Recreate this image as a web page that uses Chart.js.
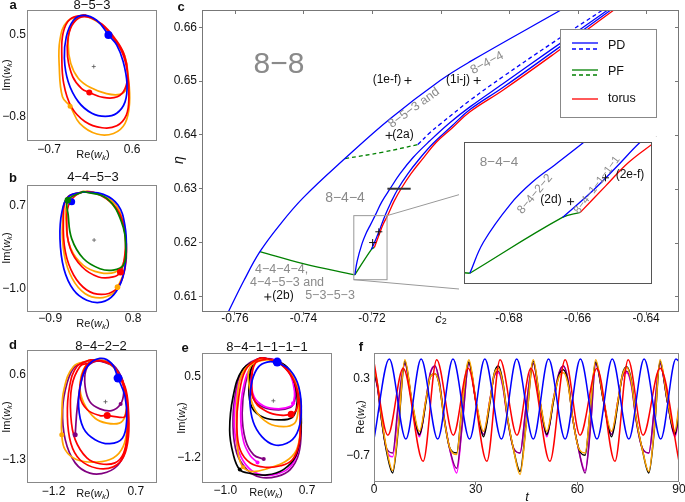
<!DOCTYPE html>
<html>
<head>
<meta charset="utf-8">
<script src="https://cdn.jsdelivr.net/npm/chart.js@4.4.0/dist/chart.umd.min.js"></script>
<style>
body { margin: 0; background: #fff; }
#wrap { position: relative; width: 685px; height: 502px; overflow: hidden; background: #fff; }
canvas { position: absolute; }
</style>
</head>
<body>
<div id="wrap"></div>
<script>
// ---------- data: panel a (8-5-3) ----------
const aXTicks = [-0.7, 0.6], aXLabels = ['−0.7', '0.6'];
const aYTicks = [0.5, -0.8], aYLabels = ['0.5', '−0.8'];
const aBlue = [[0.23,0.50],[0.36,0.34],[0.46,0.08],[0.52,-0.27],[0.49,-0.56],[0.36,-0.74],[0.18,-0.79],[-0.03,-0.74],[-0.24,-0.56],[-0.40,-0.24],[-0.46,0.13],[-0.43,0.47],[-0.32,0.73],[-0.16,0.81],[0.05,0.73],[0.23,0.50]];
const aRed = [[-0.14,0.82],[-0.37,0.75],[-0.48,0.53],[-0.50,0.16],[-0.47,-0.27],[-0.35,-0.64],[-0.14,-0.87],[0.13,-0.97],[0.36,-0.94],[0.51,-0.77],[0.55,-0.48],[0.53,-0.11],[0.45,0.21],[0.31,0.45],[0.10,0.69],[-0.14,0.79],[-0.31,0.70],[-0.40,0.47],[-0.41,0.16],[-0.33,-0.16],[-0.19,-0.35],[-0.07,-0.41],[0.15,-0.49],[0.37,-0.48],[0.49,-0.35],[0.53,-0.11],[0.48,0.18],[0.35,0.42],[0.13,0.67],[-0.14,0.82]];
const aOrange = [[-0.16,0.82],[-0.42,0.71],[-0.53,0.42],[-0.54,0.00],[-0.49,-0.48],[-0.37,-0.63],[-0.22,-0.90],[0.05,-1.07],[0.31,-1.06],[0.49,-0.90],[0.56,-0.58],[0.54,-0.16],[0.48,0.18],[0.33,0.42],[0.10,0.68],[-0.16,0.80],[-0.35,0.66],[-0.40,0.37],[-0.36,0.05],[-0.24,-0.19],[-0.06,-0.33],[0.20,-0.43],[0.41,-0.44],[0.51,-0.35],[0.53,-0.11],[0.48,0.18],[0.33,0.42],[0.10,0.68],[-0.16,0.82]];

// ---------- data: panel b (4-4-5-3) ----------
const bXTicks = [-0.9, 0.8], bXLabels = ['−0.9', '0.8'];
const bYTicks = [0.7, -1.0], bYLabels = ['0.7', '−1.0'];
const bGreen = [[-0.22,1.00],[0.26,0.86],[0.56,0.38],[0.65,-0.17],[0.60,-0.52],[0.39,-0.62],[0.12,-0.59],[-0.22,-0.38],[-0.46,0.03],[-0.53,0.51],[-0.54,0.82],[-0.22,1.00]];
const bBlue = [[-0.22,0.99],[0.19,0.94],[0.49,0.72],[0.63,0.31],[0.66,-0.24],[0.59,-0.76],[0.40,-1.13],[0.15,-1.28],[-0.15,-1.24],[-0.42,-1.03],[-0.62,-0.59],[-0.70,0.03],[-0.66,0.58],[-0.52,0.90],[-0.22,0.99]];
const bRed = [[-0.22,1.00],[-0.56,0.86],[-0.63,0.38],[-0.59,-0.24],[-0.42,-0.72],[-0.15,-1.03],[0.15,-1.12],[0.43,-1.03],[0.58,-0.79],[0.66,-0.38],[0.63,0.17],[0.46,0.65],[0.12,0.93],[-0.22,0.99],[-0.49,0.79],[-0.56,0.38],[-0.49,-0.17],[-0.25,-0.55],[0.09,-0.76],[0.39,-0.76],[0.54,-0.66],[0.63,-0.31],[0.63,0.17],[0.46,0.65],[0.12,0.93],[-0.22,1.00]];
const bOrange = [[-0.22,1.00],[-0.56,0.86],[-0.65,0.31],[-0.61,-0.31],[-0.45,-0.79],[-0.19,-1.10],[0.12,-1.19],[0.39,-1.10],[0.48,-0.97],[0.61,-0.66],[0.66,-0.17],[0.61,0.31],[0.45,0.72],[0.12,0.94],[-0.22,1.00],[-0.53,0.82],[-0.57,0.31],[-0.48,-0.17],[-0.22,-0.52],[0.12,-0.67],[0.43,-0.66],[0.60,-0.48],[0.65,-0.10],[0.58,0.38],[0.39,0.72],[0.12,0.94],[-0.22,1.00]];

// ---------- data: panel d (8-4-2-2) ----------
const dXTicks = [-1.2, 0.7], dXLabels = ['−1.2', '0.7'];
const dYTicks = [0.6, -1.3], dYLabels = ['0.6', '−1.3'];
const dBlue = [[0.29,0.53],[0.45,0.12],[0.49,-0.40],[0.39,-0.82],[0.10,-0.94],[-0.24,-0.85],[-0.51,-0.59],[-0.62,-0.11],[-0.57,0.41],[-0.42,0.79],[-0.13,0.97],[0.14,0.86],[0.29,0.53]];
const dRed = [[-0.36,0.94],[-0.66,0.79],[-0.83,0.34],[-0.88,-0.33],[-0.80,-0.93],[-0.59,-1.30],[-0.20,-1.49],[0.18,-1.46],[0.42,-1.23],[0.53,-0.78],[0.53,-0.18],[0.45,0.34],[0.18,0.79],[-0.13,0.92],[-0.40,0.86],[-0.59,0.79],[-0.78,0.34],[-0.80,-0.33],[-0.70,-0.85],[-0.43,-1.26],[-0.13,-1.39],[0.22,-1.37],[0.42,-1.15],[0.50,-0.70],[0.50,-0.18],[0.42,0.34],[0.18,0.79],[-0.13,0.92],[-0.40,0.86],[-0.55,0.56],[-0.59,0.12],[-0.42,-0.18],[-0.13,-0.31],[0.04,-0.31],[0.33,-0.35],[0.45,-0.33],[0.49,-0.03],[0.42,0.34],[0.18,0.79],[-0.13,0.92],[-0.36,0.94]];
const dOrange = [[-0.40,0.92],[-0.74,0.79],[-0.96,0.27],[-1.01,-0.33],[-1.01,-0.74],[-0.93,-1.08],[-0.66,-1.30],[-0.20,-1.35],[0.18,-1.26],[0.41,-1.00],[0.50,-0.56],[0.50,-0.03],[0.41,0.41],[0.14,0.82],[-0.17,0.94],[-0.47,0.79],[-0.59,0.34],[-0.50,-0.03],[-0.24,-0.37],[0.03,-0.48],[0.32,-0.48],[0.45,-0.33],[0.49,0.04],[0.39,0.45],[0.14,0.82],[-0.17,0.94],[-0.40,0.92]];
const dPurple = [[-0.37,0.92],[-0.70,0.79],[-0.89,0.41],[-0.99,-0.18],[-0.93,-0.85],[-0.70,-1.37],[-0.36,-1.60],[0.03,-1.58],[0.33,-1.37],[0.49,-0.93],[0.52,-0.41],[0.47,0.19],[0.26,0.71],[-0.13,0.92],[-0.37,0.92]];
const dPurpleIn = [[-0.70,-0.74],[-0.65,-0.11],[-0.55,0.49],[-0.42,0.79],[-0.13,0.92],[0.18,0.82],[0.39,0.49],[0.42,0.19],[0.35,-0.05],[0.14,-0.20],[-0.13,-0.16],[-0.36,0.00],[-0.47,0.34],[-0.45,0.71],[-0.28,0.90],[0.03,0.89]];

// ---------- data: panel e (8-4-1-1-1-1) ----------
const eXTicks = [-1.0, 0.7], eXLabels = ['−1.0', '0.7'];
const eYTicks = [0.5, -1.2], eYLabels = ['0.5', '−1.2'];
const eBlue = [[0.08,0.81],[0.35,0.64],[0.53,0.29],[0.58,-0.26],[0.49,-0.68],[0.28,-0.89],[0.01,-0.92],[-0.24,-0.75],[-0.42,-0.44],[-0.49,0.01],[-0.44,0.43],[-0.31,0.71],[-0.13,0.81],[0.08,0.81]];
const eRed = [[-0.13,0.88],[-0.38,0.78],[-0.45,0.36],[-0.38,-0.02],[-0.13,-0.23],[0.15,-0.30],[0.37,-0.28],[0.48,-0.19],[0.51,0.08],[0.42,0.43],[0.18,0.74],[-0.13,0.88],[-0.31,0.88],[-0.58,0.64],[-0.72,0.08],[-0.76,-0.54],[-0.69,-1.03],[-0.48,-1.30],[-0.17,-1.39],[0.15,-1.36],[0.39,-1.24],[0.53,-0.92],[0.56,-0.47],[0.53,0.08],[0.39,0.50],[0.15,0.78],[-0.13,0.88]];
const eOrange = [[-0.10,0.86],[-0.34,0.86],[-0.65,0.57],[-0.76,-0.06],[-0.76,-0.75],[-0.72,-1.17],[-0.63,-1.39],[-0.44,-1.48],[-0.10,-1.41],[0.25,-1.27],[0.48,-1.03],[0.56,-0.61],[0.55,-0.06],[0.46,0.43],[0.21,0.74],[-0.10,0.86],[-0.48,0.71],[-0.49,0.22],[-0.38,-0.19],[-0.10,-0.47],[0.21,-0.54],[0.44,-0.47],[0.51,-0.26],[0.53,0.08],[0.44,0.43],[0.21,0.74],[-0.10,0.86]];
const eBlack = [[-0.31,0.88],[-0.65,0.64],[-0.84,0.08],[-0.91,-0.61],[-0.84,-1.10],[-0.70,-1.44],[-0.48,-1.52],[-0.13,-1.55],[0.21,-1.44],[0.46,-1.17],[0.56,-0.75],[0.58,-0.19],[0.51,0.29],[0.28,0.71],[-0.03,0.86],[-0.31,0.88],[-0.45,0.71],[-0.51,0.29],[-0.45,-0.13],[-0.20,-0.35],[0.15,-0.40],[0.39,-0.35],[0.48,-0.16],[0.49,0.15],[0.39,0.50],[0.15,0.78],[-0.13,0.88]];
const eMagenta = [[-0.13,0.88],[-0.39,0.78],[-0.46,0.43],[-0.40,0.08],[-0.20,-0.11],[0.11,-0.17],[0.37,-0.11],[0.42,-0.03],[0.44,0.20],[0.34,0.57],[0.11,0.81],[-0.13,0.88],[-0.31,0.88],[-0.60,0.65],[-0.77,0.12],[-0.81,-0.54],[-0.72,-1.06],[-0.51,-1.41],[-0.24,-1.55],[0.08,-1.53],[0.34,-1.39],[0.51,-1.06],[0.56,-0.54],[0.53,0.01],[0.41,0.50],[0.17,0.78],[-0.13,0.88],[-0.44,0.74],[-0.62,0.30],[-0.68,-0.30],[-0.62,-0.85],[-0.48,-1.15],[-0.33,-1.29]];
const ePurple = [[-0.13,0.88],[-0.41,0.78],[-0.48,0.43],[-0.42,0.05],[-0.20,-0.14],[0.11,-0.19],[0.35,-0.14],[0.44,-0.02],[0.46,0.22],[0.35,0.57],[0.11,0.81],[-0.13,0.88],[-0.31,0.88],[-0.62,0.67],[-0.79,0.15],[-0.84,-0.54],[-0.76,-1.10],[-0.55,-1.44],[-0.27,-1.60],[0.08,-1.58],[0.35,-1.44],[0.53,-1.10],[0.58,-0.54],[0.55,0.01],[0.42,0.50],[0.18,0.78],[-0.13,0.88],[-0.41,0.78],[-0.58,0.36],[-0.65,-0.26],[-0.58,-0.82],[-0.41,-1.13],[-0.20,-1.22]];

// ---------- data: panel c (bifurcation curves, [c2, eta]) ----------
const cXTicks = [-0.76, -0.74, -0.72, -0.70, -0.68, -0.66, -0.64];
const cXLabels = ['-0.76', '-0.74', '-0.72', '', '-0.68', '-0.66', '-0.64'];
const cYTicks = [0.61, 0.62, 0.63, 0.64, 0.65, 0.66];
const cYLabels = ['0.61', '0.62', '0.63', '0.64', '0.65', '0.66'];
const pdOuter = [[-0.7620,0.6070],[-0.7574,0.6129],[-0.7527,0.6183],[-0.7469,0.6233],[-0.7401,0.6283],[-0.7279,0.6356],[-0.7147,0.6430],[-0.7001,0.6501],[-0.6914,0.6536],[-0.6651,0.6631]];
const pdInner1 = [[-0.7250,0.6140],[-0.7243,0.6166],[-0.7229,0.6198],[-0.7218,0.6216],[-0.7206,0.6231],[-0.7191,0.6250],[-0.7171,0.6276],[-0.7147,0.6300],[-0.7118,0.6328],[-0.7080,0.6358],[-0.7031,0.6389],[-0.6972,0.6423],[-0.6914,0.6452],[-0.6818,0.6495],[-0.6680,0.6557],[-0.6514,0.6631]];
const pdInner2 = [[-0.7202,0.6187],[-0.7188,0.6207],[-0.7175,0.6228],[-0.7162,0.6250],[-0.7145,0.6274],[-0.7124,0.6300],[-0.7095,0.6328],[-0.7066,0.6352],[-0.7022,0.6384],[-0.6966,0.6417],[-0.6914,0.6447],[-0.6818,0.6488],[-0.6666,0.6557],[-0.6505,0.6631]];
const pdDashed = [[-0.7066,0.6382],[-0.7031,0.6404],[-0.7001,0.6420],[-0.6914,0.6464],[-0.6818,0.6508],[-0.6680,0.6568],[-0.6529,0.6631]];
const torus = [[-0.7193,0.6191],[-0.7180,0.6213],[-0.7168,0.6233],[-0.7153,0.6252],[-0.7136,0.6276],[-0.7115,0.6300],[-0.7086,0.6328],[-0.7054,0.6354],[-0.7013,0.6386],[-0.6966,0.6413],[-0.6914,0.6443],[-0.6818,0.6483],[-0.6663,0.6553],[-0.6496,0.6631]];
const pfLow = [[-0.7527,0.6183],[-0.7401,0.6161],[-0.7250,0.6140]];
const pfMid = [[-0.7250,0.6140],[-0.7202,0.6187],[-0.7193,0.6191]];
const pfDashed = [[-0.7279,0.6356],[-0.7167,0.6368],[-0.7066,0.6382]];
const errBar = [[-0.7155,0.630],[-0.7087,0.630]];
const markC2 = [-0.7095, -0.6893, -0.7150, -0.7504, -0.7198, -0.7180];
const markEta = [0.6501, 0.6501, 0.6399, 0.6099, 0.6200, 0.6220];
const insetC2 = [-0.7253, -0.7156];
const insetEta = [0.6131, 0.6250];

// ---------- data: panel f (time series) ----------
const fXTicks = [0, 30, 60, 90], fXLabels = ['0', '30', '60', '90'];
const fYTicks = [0.3, -0.7], fYLabels = ['0.3', '−0.7'];
const fBlueT = [0, 4.5, 9.4, 13.9, 18.8, 23.3, 28.2, 32.7, 37.6, 42.1, 47.0, 51.5, 56.4, 60.9, 65.8, 70.3, 75.2, 79.7, 84.6, 89.1, 90];
const fBlueV = [-0.48, 0.56, -0.48, 0.56, -0.48, 0.56, -0.48, 0.56, -0.48, 0.56, -0.48, 0.56, -0.48, 0.56, -0.48, 0.56, -0.48, 0.56, -0.48, 0.56, 0.53];
const fRedT = [0, 4.1, 8.6, 14.5, 18.5, 23.4, 27.8, 33.3, 37.2, 42.2, 46.3, 51.9, 56.4, 60.8, 65.8, 71.1, 75.0, 79.4, 84.4, 90];
const fRedV = [0.52, -0.43, 0.44, -0.77, 0.55, -0.43, 0.44, -0.77, 0.55, -0.43, 0.44, -0.77, 0.55, -0.43, 0.44, -0.77, 0.55, -0.43, 0.44, -0.77];
const fGrpT = [0, 1.0, 2.3, 3.7, 5.5, 7.2, 9.1, 11.2, 13.4, 15.4, 16.6, 18.0, 19.3, 20.7, 22.4, 24.4, 26.0, 28.0, 30.1, 32.3, 34.3, 35.4, 36.7, 38.0, 39.4, 41.2, 43.1, 44.9, 47.0, 49.0, 51.0, 53.0, 54.6, 55.9, 57.3, 58.6, 60.4, 62.3, 63.9, 65.4, 67.8, 70.1, 72.1, 73.3, 74.6, 76.0, 77.3, 79.2, 81.1, 82.8, 84.4, 86.6, 88.8, 90];
const fOrangeV = [0.44, 0.25, -0.22, -0.60, -0.89, -0.30, 0.55, 0.02, -0.38, 0.05, 0.33, 0.37, 0.22, -0.22, -0.60, -0.68, -0.05, 0.55, 0.02, -0.38, 0.05, 0.35, 0.44, 0.25, -0.20, -0.62, -0.94, -0.30, 0.55, 0.02, -0.38, 0.05, 0.33, 0.38, 0.22, -0.20, -0.60, -0.66, -0.05, 0.55, 0.02, -0.38, 0.05, 0.35, 0.45, 0.25, -0.20, -0.62, -0.90, -0.30, 0.55, 0.02, -0.38, -0.04];
const fBlackV = [0.43, 0.22, -0.25, -0.64, -0.92, -0.34, 0.53, 0.00, -0.42, 0.02, 0.33, 0.37, 0.22, -0.22, -0.60, -0.66, -0.05, 0.52, 0.00, -0.45, 0.02, 0.36, 0.47, 0.27, -0.20, -0.62, -0.90, -0.28, 0.53, 0.00, -0.42, 0.02, 0.35, 0.42, 0.24, -0.20, -0.60, -0.69, -0.05, 0.52, 0.00, -0.45, 0.02, 0.36, 0.46, 0.27, -0.20, -0.62, -0.92, -0.32, 0.53, 0.00, -0.42, -0.08];
const fMagentaV = [0.38, 0.20, -0.25, -0.62, -0.71, -0.05, 0.50, -0.02, -0.45, 0.05, 0.38, 0.47, 0.25, -0.20, -0.62, -0.92, -0.32, 0.50, 0.00, -0.42, 0.05, 0.33, 0.38, 0.20, -0.22, -0.60, -0.66, -0.05, 0.50, 0.00, -0.45, 0.05, 0.38, 0.47, 0.27, -0.20, -0.62, -0.89, -0.30, 0.50, 0.00, -0.42, 0.05, 0.33, 0.38, 0.20, -0.22, -0.60, -0.66, -0.05, 0.50, 0.00, -0.45, -0.20];
const fPurpleV = [0.36, 0.20, -0.25, -0.60, -0.66, 0.00, 0.50, 0.00, -0.43, 0.05, 0.37, 0.47, 0.27, -0.20, -0.62, -0.86, -0.30, 0.50, 0.00, -0.42, 0.05, 0.33, 0.40, 0.22, -0.22, -0.60, -0.66, -0.05, 0.50, 0.00, -0.43, 0.05, 0.38, 0.47, 0.27, -0.20, -0.62, -0.92, -0.32, 0.50, 0.00, -0.42, 0.05, 0.33, 0.40, 0.22, -0.22, -0.60, -0.66, -0.05, 0.50, 0.00, -0.43, -0.15];

// ---------- helpers ----------
const FAM = '"Liberation Sans", Arial, Helvetica, sans-serif';
const F = (size, style) => (style ? style + ' ' : '') + size + 'px ' + FAM;
const GRAY = '#8a8a8a';
const wrap = document.getElementById('wrap');

function makeCanvas(l, t, w, h, bg) {
    const c = document.createElement('canvas');
    c.width = w; c.height = h;
    c.style.left = l + 'px'; c.style.top = t + 'px';
    c.style.width = w + 'px'; c.style.height = h + 'px';
    if (bg) c.style.background = bg;
    wrap.appendChild(c);
    return c;
}

// draws text made of parts [text, font, dy], centred on x,y
function drawText(ctx, parts, x, y, o) {
    o = o || {};
    ctx.save();
    ctx.translate(x, y);
    if (o.rot) ctx.rotate(o.rot * Math.PI / 180);
    ctx.textBaseline = 'middle';
    ctx.textAlign = 'left';
    ctx.fillStyle = o.color || '#111';
    let w = 0;
    parts.forEach(p => { ctx.font = p[1]; w += ctx.measureText(p[0]).width; });
    let cx = o.align === 'left' ? 0 : (o.align === 'right' ? -w : -w / 2);
    parts.forEach(p => { ctx.font = p[1]; ctx.fillText(p[0], cx, p[2] || 0); cx += ctx.measureText(p[0]).width; });
    ctx.restore();
}
const T = (s, size, style) => [[s, F(size, style)]];
const wk = (pre, size) => [[pre + '(', F(size)], ['w', F(size, 'italic')], ['k', F(size - 3, 'italic'), 3], [')', F(size)]];

function textPlugin(ox, oy, items, extra) {
    return {
        id: 'txt',
        afterDraw(chart) {
            const ctx = chart.ctx;
            if (extra) extra(chart, ctx);
            items.forEach(it => drawText(ctx, it[0], it[1] - ox, it[2] - oy, it[3]));
        }
    };
}
const framePlugin = (color) => ({
    id: 'frame',
    afterDatasetsDraw(chart) {
        const a = chart.chartArea, ctx = chart.ctx;
        ctx.save();
        ctx.strokeStyle = color; ctx.lineWidth = 1;
        ctx.strokeRect(Math.round(a.left) + 0.5, Math.round(a.top) + 0.5, Math.round(a.right - a.left) - 1, Math.round(a.bottom - a.top) - 1);
        ctx.restore();
    }
});

function axis(range, ticks, labels, dir, size, pad, tickLen) {
    return {
        type: 'linear', min: range[0], max: range[1], bounds: 'data',
        afterFit: s => { if (dir === 'h') s.height = size; else s.width = size; },
        afterBuildTicks: s => { s.ticks = ticks.map(v => ({ value: v })); },
        ticks: { callback: (v, i) => labels[i], font: { family: FAM, size: 12, lineHeight: 1 }, color: '#111', padding: pad, maxRotation: 0, autoSkip: false },
        grid: tickLen ? { display: true, drawOnChartArea: false, drawTicks: true, tickLength: tickLen, color: '#777' } : { display: false, drawTicks: false },
        border: { display: false }
    };
}
const pts = arr => arr.map(q => ({ x: q[0], y: q[1] }));
const baseOpts = (pad, scales) => ({
    responsive: false, animation: false, devicePixelRatio: 1, events: [],
    layout: { padding: { top: pad[0], right: pad[1], left: 0, bottom: 0 } },
    plugins: { legend: { display: false }, tooltip: { enabled: false } },
    scales: scales
});

// ---------- small loop panels ----------
function loopPanel(p) {
    const [l, t, w, h] = p.canvas;
    const cv = makeCanvas(l, t, w, h);
    const ds = [];
    p.dots.forEach(d => ds.push({ data: [{ x: d[0][0], y: d[0][1] }], backgroundColor: d[1], borderColor: d[1], pointRadius: d[2], borderWidth: 0, showLine: false }));
    p.curves.forEach(c => ds.push({ data: pts(c[0]), borderColor: c[1], borderWidth: 1.7, showLine: true, pointRadius: 0, tension: 0.4 }));
    ds.push({ data: [{ x: 0, y: 0 }], pointStyle: 'cross', pointRadius: 2, borderColor: '#555', borderWidth: 0.8, showLine: false });
    new Chart(cv, {
        type: 'scatter',
        data: { datasets: ds },
        options: baseOpts(p.pad, {
            x: axis(p.xr, p.xt, p.xl, 'h', p.xh, p.xpad),
            y: axis(p.yr, p.yt, p.yl, 'v', p.yw, 1)
        }),
        plugins: [framePlugin('#888'), textPlugin(l, t, p.texts)]
    });
}

loopPanel({
    canvas: [0, 0, 163, 165], pad: [10, 6], xh: 24, yw: 27, xpad: 3,
    xr: [-1.045, 0.99], yr: [-1.18, 0.896], xt: aXTicks, xl: aXLabels, yt: aYTicks, yl: aYLabels,
    curves: [[aBlue, 'blue'], [aRed, 'red'], [aOrange, 'orange']],
    dots: [[[0.23, 0.50], 'blue', 4], [[-0.07, -0.41], 'red', 3], [[-0.37, -0.63], 'orange', 2.5]],
    texts: [[T('a', 13, 'bold'), 13, 5], [T('8−5−3', 13), 92, 5], [wk('Re', 11), 93, 155], [wk('Im', 11), 7, 75, { rot: -90 }]]
});
loopPanel({
    canvas: [0, 165, 163, 165], pad: [20, 6], xh: 18, yw: 27, xpad: 1,
    xr: [-1.376, 1.29], yr: [-1.482, 1.134], xt: bXTicks, xl: bXLabels, yt: bYTicks, yl: bYLabels,
    curves: [[bGreen, 'green'], [bBlue, 'blue'], [bRed, 'red'], [bOrange, 'orange']],
    dots: [[[-0.54, 0.82], 'green', 3.2], [[-0.46, 0.79], 'blue', 3.5], [[0.54, -0.66], 'red', 3.5], [[0.48, -0.97], 'orange', 2.8]],
    texts: [[T('b', 13, 'bold'), 13, 178], [T('4−4−5−3', 13), 93, 177], [wk('Re', 11), 93, 324], [wk('Im', 11), 7, 248, { rot: -90 }]]
});
loopPanel({
    canvas: [0, 330, 163, 172], pad: [20, 6], xh: 19, yw: 27, xpad: 3,
    xr: [-1.813, 1.19], yr: [-1.821, 1.159], xt: dXTicks, xl: dXLabels, yt: dYTicks, yl: dYLabels,
    curves: [[dBlue, 'blue'], [dRed, 'red'], [dOrange, 'orange'], [dPurpleIn, 'purple'], [dPurple, 'purple']],
    dots: [[[0.29, 0.53], 'blue', 4.5], [[0.04, -0.31], 'red', 3.5], [[-1.01, -0.74], 'orange', 2.5], [[-0.70, -0.74], 'purple', 2.5], [[0.35, -0.05], 'purple', 2]],
    texts: [[T('d', 13, 'bold'), 13, 345], [T('8−4−2−2', 13), 101, 346], [wk('Re', 11), 93, 494], [wk('Im', 11), 7, 417, { rot: -90 }]]
});
loopPanel({
    canvas: [170, 330, 168, 172], pad: [23, 6], xh: 19, yw: 32, xpad: 2,
    xr: [-1.486, 1.221], yr: [-1.72, 1.0], xt: eXTicks, xl: eXLabels, yt: eYTicks, yl: eYLabels,
    curves: [[eBlue, 'blue'], [eRed, 'red'], [eOrange, 'orange'], [eBlack, 'black'], [eMagenta, 'magenta'], [ePurple, 'purple']],
    dots: [[[0.08, 0.81], 'blue', 4.5], [[0.37, -0.28], 'red', 3.5], [[-0.63, -1.39], 'orange', 2], [[-0.70, -1.44], 'black', 2], [[-0.33, -1.29], 'magenta', 2], [[-0.20, -1.22], 'purple', 2], [[0.41, -0.05], 'magenta', 2]],
    texts: [[T('e', 13, 'bold'), 185, 348], [T('8−4−1−1−1−1', 13), 267, 347], [wk('Re', 11), 266, 493], [wk('Im', 11), 182, 418, { rot: -90 }]]
});

// ---------- panel c: bifurcation diagram with inset ----------
const C = { l: 170, t: 0, w: 515, h: 330 };
const INSET = { l: 459, t: 137, w: 198, h: 152 };

function cDatasets() {
    const line = (arr, color, dash) => ({ data: pts(arr), borderColor: color, borderWidth: 1.3, borderDash: dash || [], showLine: true, pointRadius: 0, tension: 0.4 });
    return [
        { data: markC2.map((v, i) => ({ x: v, y: markEta[i] })), pointStyle: 'cross', pointRadius: 3.5, borderColor: '#111', borderWidth: 1, showLine: false },
        { data: pts(errBar), borderColor: '#333', borderWidth: 2, showLine: true, pointRadius: 0 },
        line(torus, 'red'),
        line(pdInner2, 'blue'),
        line(pdInner1, 'blue'),
        line(pdDashed, 'blue', [4, 3]),
        line(pdOuter, 'blue'),
        line(pfMid, 'green'),
        line(pfLow, 'green'),
        line(pfDashed, 'green', [4, 3])
    ];
}

function cExtra(chart, ctx) {
    const a = chart.chartArea, xs = chart.scales.x, ys = chart.scales.y;
    ctx.save();
    ctx.strokeStyle = '#777'; ctx.lineWidth = 1;
    ctx.beginPath();
    cXTicks.forEach(v => { const px = Math.round(xs.getPixelForValue(v)) + 0.5; ctx.moveTo(px, a.top); ctx.lineTo(px, a.top + 4); });
    cYTicks.forEach(v => { const py = Math.round(ys.getPixelForValue(v)) + 0.5; ctx.moveTo(a.right, py); ctx.lineTo(a.right - 4, py); });
    ctx.stroke();
    // zoom box and connectors to the inset
    const x0 = xs.getPixelForValue(insetC2[0]), x1 = xs.getPixelForValue(insetC2[1]);
    const y0 = ys.getPixelForValue(insetEta[0]), y1 = ys.getPixelForValue(insetEta[1]);
    ctx.strokeStyle = '#999';
    ctx.strokeRect(x0, y1, x1 - x0, y0 - y1);
    ctx.beginPath();
    ctx.moveTo(x1, y1); ctx.lineTo(INSET.l + INSET.w - C.l, INSET.t - C.t);
    ctx.moveTo(x0, y0); ctx.lineTo(INSET.l - C.l, INSET.t + INSET.h - C.t);
    ctx.stroke();
    // legend
    const lx = 560 - C.l;
    ctx.fillStyle = '#fff';
    ctx.fillRect(lx, 29, 96, 88);
    ctx.strokeStyle = '#888';
    ctx.strokeRect(lx + 0.5, 29.5, 96, 88);
    const sample = (y, color, dash) => {
        ctx.beginPath(); ctx.setLineDash(dash || []); ctx.strokeStyle = color; ctx.lineWidth = 1.3;
        ctx.moveTo(lx + 12, y); ctx.lineTo(lx + 38, y); ctx.stroke();
    };
    sample(43, 'blue'); sample(49, 'blue', [4, 3]);
    sample(70, 'green'); sample(75, 'green', [4, 3]);
    sample(99, 'red');
    ctx.setLineDash([]);
    ctx.restore();
    drawText(ctx, T('PD', 12.5), lx + 48, 46, { align: 'left' });
    drawText(ctx, T('PF', 12.5), lx + 48, 72, { align: 'left' });
    drawText(ctx, T('torus', 12.5), lx + 48, 99, { align: 'left' });
}

const cv = makeCanvas(C.l, C.t, C.w, C.h);
new Chart(cv, {
    type: 'scatter',
    data: { datasets: cDatasets() },
    options: baseOpts([10, 6], {
        x: axis([-0.7696, -0.6304], cXTicks, cXLabels, 'h', 18, -2, 3),
        y: axis([0.6071, 0.6632], cYTicks, cYLabels, 'v', 32, 2, 3)
    }),
    plugins: [framePlugin('#777'), textPlugin(C.l, C.t, [
        [T('c', 13, 'bold'), 181, 7],
        [T('8−8', 30), 279, 65, { color: GRAY }],
        [T('(1e-f)', 12), 387, 80],
        [T('(1i-j)', 12), 458, 80],
        [T('(2a)', 12), 403, 135],
        [T('(2b)', 12), 283, 296],
        [T('5−3−5−3', 12.5), 330, 296, { color: GRAY }],
        [T('8−4−4', 14), 345, 198, { color: GRAY }],
        [T('4−4−4−4,', 12.5), 255, 270, { color: GRAY, align: 'left' }],
        [T('4−4−5−3 and', 12.5), 250, 283, { color: GRAY, align: 'left' }],
        [T('8−5−3 and', 12.5), 414, 108, { color: GRAY, rot: -36 }],
        [T('8−4−4', 12.5), 487, 63, { color: GRAY, rot: -28 }],
        [T('η', 14, 'italic'), 179, 160, { rot: -90 }],
        [[['c', F(13, 'italic')], ['2', F(9), 3]], 441, 319]
    ], cExtra)]
});

// inset: same curves, zoomed
const iv = makeCanvas(INSET.l, INSET.t, INSET.w, INSET.h, '#fff');
new Chart(iv, {
    type: 'scatter',
    data: { datasets: cDatasets() },
    options: baseOpts([0, 0], {
        x: { type: 'linear', display: false, min: insetC2[0], max: insetC2[1] },
        y: { type: 'linear', display: false, min: insetEta[0], max: insetEta[1] }
    }),
    plugins: [framePlugin('#555'), textPlugin(INSET.l, INSET.t, [
        [T('8−4−4', 13.5), 499, 162, { color: GRAY }],
        [T('8−4−2−2', 12), 535, 194, { color: GRAY, rot: -50 }],
        [T('(2d)', 12), 551, 200],
        [T('8−4−1−1−1−1', 11), 597, 185, { color: GRAY, rot: -53 }],
        [T('(2e-f)', 12), 630, 175]
    ])]
});

// ---------- panel f: time series ----------
const series = (t, v, color) => ({ data: t.map((x, i) => ({ x: x, y: v[i] })), borderColor: color, borderWidth: 1.5, showLine: true, pointRadius: 0, cubicInterpolationMode: 'monotone' });
const fv = makeCanvas(340, 340, 345, 162);
new Chart(fv, {
    type: 'scatter',
    data: {
        datasets: [
            series(fBlueT, fBlueV, 'blue'),
            series(fRedT, fRedV, 'red'),
            series(fGrpT, fOrangeV, 'orange'),
            series(fGrpT, fBlackV, 'black'),
            series(fGrpT, fPurpleV, 'purple'),
            series(fGrpT, fMagentaV, 'magenta')
        ]
    },
    options: baseOpts([13, 6], {
        x: axis([0, 90], fXTicks, fXLabels, 'h', 20, -1, 3),
        y: axis([-1.038, 0.638], fYTicks, fYLabels, 'v', 34, 4)
    }),
    plugins: [framePlugin('#888'), textPlugin(340, 340, [
        [T('f', 13, 'bold'), 361, 347],
        [T('t', 13, 'italic'), 527, 497],
        [wk('Re', 11), 361, 417, { rot: -90 }]
    ])]
});
</script>
</body>
</html>
